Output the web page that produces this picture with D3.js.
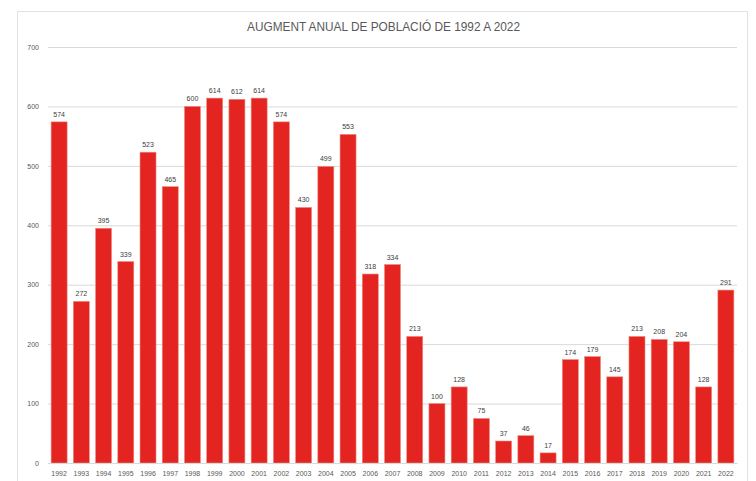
<!DOCTYPE html>
<html><head><meta charset="utf-8">
<script src="https://cdn.jsdelivr.net/npm/d3@7"></script>
<style>body{margin:0;background:#fff}svg{display:block}</style>
</head><body>
<script>
const years = ["1992","1993","1994","1995","1996","1997","1998","1999","2000","2001","2002","2003","2004","2005","2006","2007","2008","2009","2010","2011","2012","2013","2014","2015","2016","2017","2018","2019","2020","2021","2022"];
const values = [574,272,395,339,523,465,600,614,612,614,574,430,499,553,318,334,213,100,128,75,37,46,17,174,179,145,213,208,204,128,291];
const yTicks = [0,100,200,300,400,500,600,700];
const title = "AUGMENT ANUAL DE POBLACIÓ DE 1992 A 2022";

const W=756,H=481;
const svg=d3.select("body").append("svg").attr("width",W).attr("height",H);
svg.append("rect").attr("x",17.5).attr("y",11.5).attr("width",730).attr("height",480)
  .attr("fill","#fff").attr("stroke","#e2e2e2").attr("stroke-width",1);

const x=d3.scaleBand().domain(years).range([48,737]).paddingInner(0.28).paddingOuter(0.14);
const y=d3.scaleLinear().domain([0,700]).range([463,47]);

svg.append("text").attr("x",383.5).attr("y",31).attr("text-anchor","middle")
  .attr("font-family","Liberation Sans Narrow, Liberation Sans, sans-serif").attr("font-size",12)
  .attr("textLength",273).attr("lengthAdjust","spacingAndGlyphs")
  .attr("fill","#595959").text(title);

const yAxis=svg.append("g").attr("transform","translate(48,0)")
  .call(d3.axisLeft(y).tickValues(yTicks).tickSize(-689).tickPadding(9));
yAxis.select(".domain").remove();
yAxis.selectAll(".tick line").attr("stroke","#d9d9d9").attr("stroke-width",1);
yAxis.selectAll(".tick text").attr("fill","#595959").attr("font-size",7)
  .attr("font-family","Liberation Sans, sans-serif");

svg.append("g").selectAll("rect").data(values).join("rect")
  .attr("x",(d,i)=>x(years[i])).attr("width",x.bandwidth())
  .attr("y",d=>y(d)).attr("height",d=>y(0)-y(d))
  .attr("fill","#e32420").attr("stroke","#f08a80").attr("stroke-width",0.6);

svg.append("g").selectAll("text").data(values).join("text")
  .attr("x",(d,i)=>x(years[i])+x.bandwidth()/2).attr("y",d=>y(d)-5)
  .attr("text-anchor","middle").attr("font-size",7).attr("fill","#404040")
  .attr("font-family","Liberation Sans, sans-serif").text(d=>d);

const xAxis=svg.append("g").attr("transform","translate(0,463)")
  .call(d3.axisBottom(x).tickSize(0).tickPadding(8));
xAxis.select(".domain").attr("stroke","#d9d9d9");
xAxis.selectAll(".tick text").attr("fill","#595959").attr("font-size",7)
  .attr("font-family","Liberation Sans Narrow, Liberation Sans, sans-serif");
</script>
</body></html>
